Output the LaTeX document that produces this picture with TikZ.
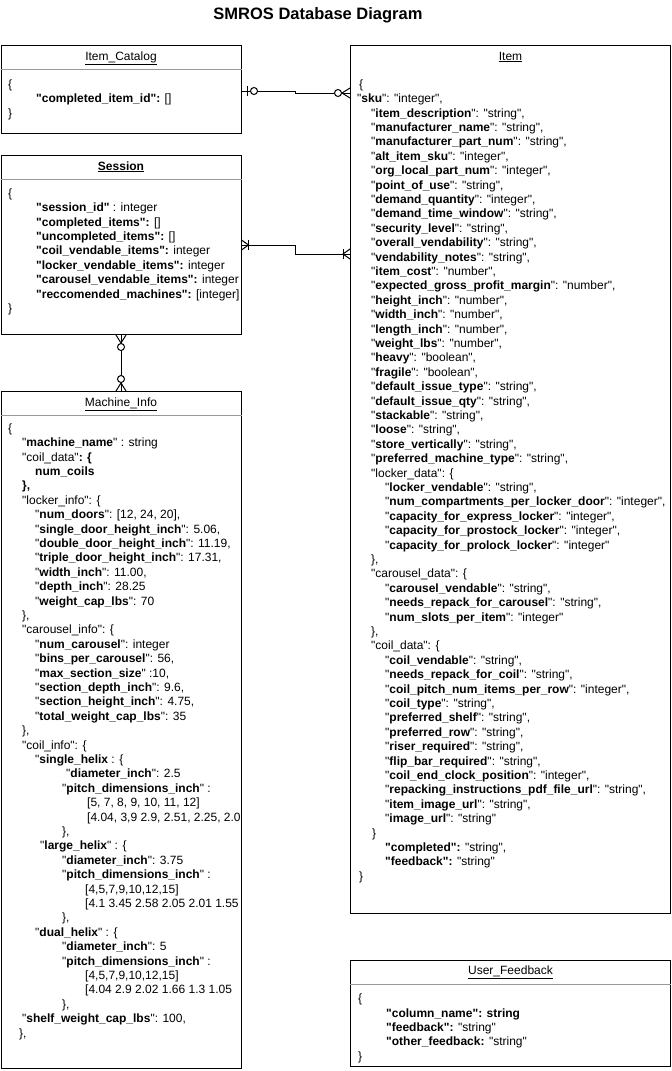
\documentclass[tikz,border=0pt]{standalone}
\usepackage{fontspec}
\setmainfont{Liberation Sans}[Ligatures=TeXOff]
\usetikzlibrary{calc,positioning}

\newcommand{\fk}[1]{"\textbf{#1}"}
\newcommand{\indt}[1]{\hspace*{#1pt}}

\tikzset{
    entity/.style={draw, line width=1pt, inner sep=0pt, anchor=north west},
    boxname/.style={font=\fontsize{12}{14.4}\selectfont, anchor=base, inner sep=0pt},
    fields/.style={font=\fontsize{12}{14.4}\selectfont, align=left, anchor=north west, inner sep=0pt},
    divider/.style={draw=black!40, line width=1pt},
    link/.style={line width=1pt},
    crow zero/.pic={
        \draw[link] (0,-5) -- (8,0) -- (0,5);
        \draw[link, fill=white] (12,0) circle (3.5);
    },
    crow one/.pic={
        \draw[link] (0,-5) -- (7,0) -- (0,5);
        \draw[link] (7,-5) -- (7,5);
    },
    bar zero/.pic={
        \draw[link] (6,-5) -- (6,5);
        \draw[link, fill=white] (12.5,0) circle (3.5);
    }
}

\begin{document}
\begin{tikzpicture}[x=1pt, y=-1pt]
    \useasboundingbox (0,0) rectangle (672,1071);
    \node[font=\fontsize{16.5}{20}\selectfont\bfseries] (heading) at (318,15) {SMROS Database Diagram};

    % boxes
    \node[entity, minimum width=240pt, minimum height=88pt] (catalog) at (0.5,45) {};
    \node[entity, minimum width=320pt, minimum height=868pt] (item) at (350,45) {};
    \node[entity, minimum width=240pt, minimum height=179pt] (session) at (0.5,155) {};
    \node[entity, minimum width=240pt, minimum height=677pt] (machine) at (0.5,391) {};
    \node[entity, minimum width=320pt, minimum height=106pt] (feedback) at (350,960) {};

    \draw[divider] (catalog.west |- 0,69) -- (catalog.east |- 0,69);
    \draw[divider] (session.west |- 0,179) -- (session.east |- 0,179);
    \draw[divider] (machine.west |- 0,415) -- (machine.east |- 0,415);
    \draw[divider] (feedback.west |- 0,984) -- (feedback.east |- 0,984);

    \node[boxname] (catalog-name) at (catalog.north |- 0,60) {\underline{Item\_Catalog}};
    \node[boxname] (item-name) at (item.north |- 0,60) {\underline{Item}};
    \node[boxname, font=\fontsize{12}{14.4}\selectfont\bfseries] (session-name) at (session.north |- 0,170) {\underline{Session}};
    \node[boxname] (machine-name) at (machine.north |- 0,406) {\underline{Machine\_Info}};
    \node[boxname] (feedback-name) at (feedback.north |- 0,974) {\underline{User\_Feedback}};

    \node[fields] (catalog-body) at (8,78) {\strut\{\\
        \indt{28}\textbf{"completed\_item\_id":} []\\
        \}};

    \node[fields] (session-body) at (8,187) {\strut\{\\
        \indt{28}\textbf{"session\_id"} : integer\\
        \indt{28}\textbf{"completed\_items":} []\\
        \indt{28}\textbf{"uncompleted\_items":} []\\
        \indt{28}\textbf{"coil\_vendable\_items":} integer\\
        \indt{28}\textbf{"locker\_vendable\_items":} integer\\
        \indt{28}\textbf{"carousel\_vendable\_items":} integer\\
        \indt{28}\textbf{"reccomended\_machines":} [integer]\\
        \}};

    \begin{scope}
        \clip (machine.west |- 0,415) rectangle (machine.south east);
        \node[fields] (machine-body) at (8,422) {\strut\{\\
            \indt{14}\fk{machine\_name} : string\\
            \indt{14}"coil\_data"\textbf{: \{}\\
            \indt{27}\textbf{num\_coils}\\
            \indt{14}\textbf{\},}\\
            \indt{14}"locker\_info": \{\\
            \indt{27}\fk{num\_doors}: [12, 24, 20],\\
            \indt{27}\fk{single\_door\_height\_inch}: 5.06,\\
            \indt{27}\fk{double\_door\_height\_inch}: 11.19,\\
            \indt{27}\fk{triple\_door\_height\_inch}: 17.31,\\
            \indt{27}\fk{width\_inch}: 11.00,\\
            \indt{27}\fk{depth\_inch}: 28.25\\
            \indt{27}\fk{weight\_cap\_lbs}: 70\\
            \indt{14}\},\\
            \indt{14}"carousel\_info": \{\\
            \indt{27}\fk{num\_carousel}: integer\\
            \indt{27}\fk{bins\_per\_carousel}: 56,\\
            \indt{27}\fk{max\_section\_size} :10,\\
            \indt{27}\fk{section\_depth\_inch}: 9.6,\\
            \indt{27}\fk{section\_height\_inch}: 4.75,\\
            \indt{27}\fk{total\_weight\_cap\_lbs}: 35\\
            \indt{14}\},\\
            \indt{14}"coil\_info": \{\\
            \indt{27}"\textbf{single\_helix} : \{\\
            \indt{58}\fk{diameter\_inch}: 2.5\\
            \indt{54}\fk{pitch\_dimensions\_inch} :\\
            \indt{79}[5, 7, 8, 9, 10, 11, 12]\\
            \indt{79}[4.04, 3,9 2.9, 2.51, 2.25, 2.0\\
            \indt{54}\},\\
            \indt{32}\fk{large\_helix} : \{\\
            \indt{54}\fk{diameter\_inch}: 3.75\\
            \indt{54}\fk{pitch\_dimensions\_inch} :\\
            \indt{77}[4,5,7,9,10,12,15]\\
            \indt{77}[4.1 3.45 2.58 2.05 2.01 1.55\\
            \indt{54}\},\\
            \indt{27}\fk{dual\_helix} : \{\\
            \indt{54}\fk{diameter\_inch}: 5\\
            \indt{54}\fk{pitch\_dimensions\_inch} :\\
            \indt{77}[4,5,7,9,10,12,15]\\
            \indt{77}[4.04 2.9 2.02 1.66 1.3 1.05\\
            \indt{54}\},\\
            \indt{14}\fk{shelf\_weight\_cap\_lbs}: 100,\\
            \indt{11}\},};
    \end{scope}

    \node[fields] (item-body) at (357,78) {\strut\indt{2}\{\\
        \fk{sku}: "integer",\\
        \indt{14}\fk{item\_description}: "string",\\
        \indt{14}\fk{manufacturer\_name}: "string",\\
        \indt{14}\fk{manufacturer\_part\_num}: "string",\\
        \indt{14}\fk{alt\_item\_sku}: "integer",\\
        \indt{14}\fk{org\_local\_part\_num}: "integer",\\
        \indt{14}\fk{point\_of\_use}: "string",\\
        \indt{14}\fk{demand\_quantity}: "integer",\\
        \indt{14}\fk{demand\_time\_window}: "string",\\
        \indt{14}\fk{security\_level}: "string",\\
        \indt{14}\fk{overall\_vendability}: "string",\\
        \indt{14}\fk{vendability\_notes}: "string",\\
        \indt{14}\fk{item\_cost}: "number",\\
        \indt{14}\fk{expected\_gross\_profit\_margin}: "number",\\
        \indt{14}\fk{height\_inch}: "number",\\
        \indt{14}\fk{width\_inch}: "number",\\
        \indt{14}\fk{length\_inch}: "number",\\
        \indt{14}\fk{weight\_lbs}: "number",\\
        \indt{14}\fk{heavy}: "boolean",\\
        \indt{14}\fk{fragile}: "boolean",\\
        \indt{14}\fk{default\_issue\_type}: "string",\\
        \indt{14}\fk{default\_issue\_qty}: "string",\\
        \indt{14}\fk{stackable}: "string",\\
        \indt{14}\fk{loose}: "string",\\
        \indt{14}\fk{store\_vertically}: "string",\\
        \indt{14}\fk{preferred\_machine\_type}: "string",\\
        \indt{14}"locker\_data": \{\\
        \indt{28}\fk{locker\_vendable}: "string",\\
        \indt{28}\fk{num\_compartments\_per\_locker\_door}: "integer",\\
        \indt{28}\fk{capacity\_for\_express\_locker}: "integer",\\
        \indt{28}\fk{capacity\_for\_prostock\_locker}: "integer",\\
        \indt{28}\fk{capacity\_for\_prolock\_locker}: "integer"\\
        \indt{14}\},\\
        \indt{14}"carousel\_data": \{\\
        \indt{28}\fk{carousel\_vendable}: "string",\\
        \indt{28}\fk{needs\_repack\_for\_carousel}: "string",\\
        \indt{28}\fk{num\_slots\_per\_item}: "integer"\\
        \indt{14}\},\\
        \indt{14}"coil\_data": \{\\
        \indt{28}\fk{coil\_vendable}: "string",\\
        \indt{28}\fk{needs\_repack\_for\_coil}: "string",\\
        \indt{28}\fk{coil\_pitch\_num\_items\_per\_row}: "integer",\\
        \indt{28}\fk{coil\_type}: "string",\\
        \indt{28}\fk{preferred\_shelf}: "string",\\
        \indt{28}\fk{preferred\_row}: "string",\\
        \indt{28}\fk{riser\_required}: "string",\\
        \indt{28}\fk{flip\_bar\_required}: "string",\\
        \indt{28}\fk{coil\_end\_clock\_position}: "integer",\\
        \indt{28}\fk{repacking\_instructions\_pdf\_file\_url}: "string",\\
        \indt{28}\fk{item\_image\_url}: "string",\\
        \indt{28}\fk{image\_url}: "string"\\
        \indt{15}\}\\
        \indt{28}\textbf{"completed":} "string",\\
        \indt{28}\textbf{"feedback":} "string"\\
        \indt{2}\}};

    \node[fields] (feedback-body) at (358,992.5) {\strut\{\\
        \indt{28}\textbf{"column\_name": string}\\
        \indt{28}\textbf{"feedback":} "string"\\
        \indt{28}\textbf{"other\_feedback:} "string"\\
        \}};

    % relations
    \coordinate (cat-r) at (catalog.east |- 0,91);
    \coordinate (item-l1) at (item.west |- 0,93);
    \coordinate (sess-r) at (session.east |- 0,245);
    \coordinate (item-l2) at (item.west |- 0,254);
    \draw[link] (cat-r) -| ($(cat-r)!.5!(item-l1)$) |- (item-l1);
    \draw[link] (sess-r) -| ($(sess-r)!.5!(item-l2)$) |- (item-l2);
    \draw[link] (session.south) -- (machine.north);
    \pic at (cat-r) {bar zero};
    \pic[rotate=180] at (item-l1) {crow zero};
    \pic at (sess-r) {crow one};
    \pic[rotate=180] at (item-l2) {crow one};
    \pic[rotate=-90] at (session.south) {crow zero};
    \pic[rotate=90] at (machine.north) {crow zero};
\end{tikzpicture}
\end{document}
